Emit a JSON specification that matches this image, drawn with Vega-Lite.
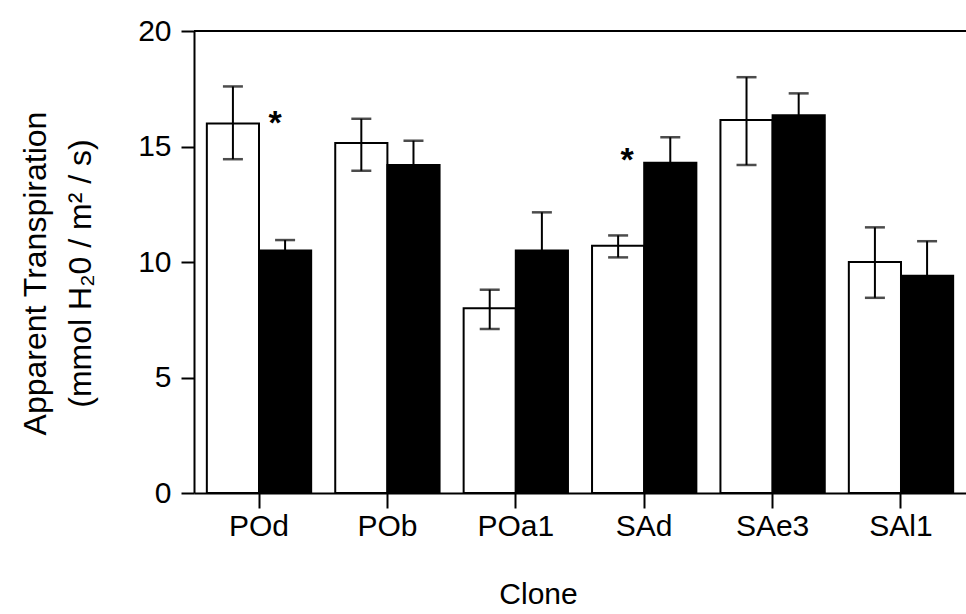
{
  "$schema": "https://vega.github.io/schema/vega-lite/v6.json",
  "width": 772,
  "height": 462,
  "autosize": "none",
  "padding": {"left": 194, "top": 31, "right": 0, "bottom": 121},
  "background": "white",
  "config": {
    "view": {"stroke": null},
    "font": "Liberation Sans",
    "axis": {
      "grid": false,
      "domainColor": "black",
      "domainWidth": 2,
      "tickColor": "black",
      "tickWidth": 2,
      "labelColor": "black",
      "labelFontSize": 30,
      "titleColor": "black",
      "titleFontSize": 30,
      "titleFontWeight": "normal"
    }
  },
  "datasets": {
    "bars": [
      {"clone": "POd", "group": "open", "mean": 16.0, "lo": 14.45, "hi": 17.6},
      {"clone": "POd", "group": "filled", "mean": 10.5, "lo": 10.05, "hi": 10.95},
      {"clone": "POb", "group": "open", "mean": 15.15, "lo": 13.95, "hi": 16.2},
      {"clone": "POb", "group": "filled", "mean": 14.2, "lo": 13.2, "hi": 15.25},
      {"clone": "POa1", "group": "open", "mean": 8.0, "lo": 7.1, "hi": 8.8},
      {"clone": "POa1", "group": "filled", "mean": 10.5, "lo": 8.85, "hi": 12.15},
      {"clone": "SAd", "group": "open", "mean": 10.7, "lo": 10.2, "hi": 11.15},
      {"clone": "SAd", "group": "filled", "mean": 14.3, "lo": 13.2, "hi": 15.4},
      {"clone": "SAe3", "group": "open", "mean": 16.15, "lo": 14.2, "hi": 18.0},
      {"clone": "SAe3", "group": "filled", "mean": 16.35, "lo": 15.4, "hi": 17.3},
      {"clone": "SAl1", "group": "open", "mean": 10.0, "lo": 8.45, "hi": 11.5},
      {"clone": "SAl1", "group": "filled", "mean": 9.4, "lo": 7.9, "hi": 10.9}
    ]
  },
  "layer": [
    {
      "data": {"name": "bars"},
      "mark": {"type": "bar", "stroke": "black", "strokeWidth": 2},
      "encoding": {
        "x": {
          "field": "clone", "type": "nominal",
          "sort": ["POd", "POb", "POa1", "SAd", "SAe3", "SAl1"],
          "scale": {"paddingInner": 0.1875, "paddingOuter": 0.1},
          "axis": {"title": "Clone", "labelAngle": 0, "tickSize": 15, "labelPadding": 3, "titlePadding": 38, "titleX": 344}
        },
        "xOffset": {"field": "group", "type": "nominal", "sort": ["open", "filled"], "scale": {"paddingInner": 0, "paddingOuter": 0}},
        "y": {
          "field": "mean", "type": "quantitative",
          "scale": {"domain": [0, 20], "nice": false},
          "title": ["Apparent Transpiration", "(mmol H₂0 / m² / s)"],
          "axis": {"values": [0, 5, 10, 15, 20], "tickSize": 13, "labelPadding": 10, "titlePadding": 40, "titleLineHeight": 45, "titleFontSize": 32, "titleY": 242}
        },
        "fill": {"field": "group", "type": "nominal", "scale": {"domain": ["open", "filled"], "range": ["white", "black"]}, "legend": null}
      }
    },
    {
      "data": {"name": "bars"},
      "mark": {"type": "rule", "color": "black", "strokeWidth": 2},
      "encoding": {
        "x": {"field": "clone", "type": "nominal", "sort": ["POd", "POb", "POa1", "SAd", "SAe3", "SAl1"]},
        "xOffset": {"field": "group", "type": "nominal", "sort": ["open", "filled"]},
        "y": {"field": "lo", "type": "quantitative", "title": ["Apparent Transpiration", "(mmol H₂0 / m² / s)"]},
        "y2": {"field": "hi"}
      }
    },
    {
      "data": {"name": "bars"},
      "mark": {"type": "tick", "color": "black", "size": 20, "thickness": 2.5},
      "encoding": {
        "x": {"field": "clone", "type": "nominal", "sort": ["POd", "POb", "POa1", "SAd", "SAe3", "SAl1"]},
        "xOffset": {"field": "group", "type": "nominal", "sort": ["open", "filled"]},
        "y": {"field": "hi", "type": "quantitative", "title": ["Apparent Transpiration", "(mmol H₂0 / m² / s)"]}
      }
    },
    {
      "data": {"name": "bars"},
      "transform": [{"filter": "datum.group === 'open'"}],
      "mark": {"type": "tick", "color": "black", "size": 20, "thickness": 2.5},
      "encoding": {
        "x": {"field": "clone", "type": "nominal", "sort": ["POd", "POb", "POa1", "SAd", "SAe3", "SAl1"]},
        "xOffset": {"field": "group", "type": "nominal", "sort": ["open", "filled"]},
        "y": {"field": "lo", "type": "quantitative", "title": ["Apparent Transpiration", "(mmol H₂0 / m² / s)"]}
      }
    },
    {
      "data": {"values": [{"clone": "POd", "v": 15.55, "label": "*"}]},
      "mark": {"type": "text", "fontSize": 34, "fontWeight": "bold", "color": "black", "dx": 16, "baseline": "alphabetic"},
      "encoding": {
        "x": {"field": "clone", "type": "nominal", "sort": ["POd", "POb", "POa1", "SAd", "SAe3", "SAl1"]},
        "y": {"field": "v", "type": "quantitative", "title": ["Apparent Transpiration", "(mmol H₂0 / m² / s)"]},
        "text": {"field": "label"}
      }
    },
    {
      "data": {"values": [{"clone": "SAd", "v": 13.95, "label": "*"}]},
      "mark": {"type": "text", "fontSize": 34, "fontWeight": "bold", "color": "black", "dx": -17, "baseline": "alphabetic"},
      "encoding": {
        "x": {"field": "clone", "type": "nominal", "sort": ["POd", "POb", "POa1", "SAd", "SAe3", "SAl1"]},
        "y": {"field": "v", "type": "quantitative", "title": ["Apparent Transpiration", "(mmol H₂0 / m² / s)"]},
        "text": {"field": "label"}
      }
    },
    {
      "data": {"values": [{"v": 20}]},
      "mark": {"type": "rule", "color": "black", "strokeWidth": 2},
      "encoding": {
        "y": {"field": "v", "type": "quantitative", "title": ["Apparent Transpiration", "(mmol H₂0 / m² / s)"]}
      }
    }
  ]
}
